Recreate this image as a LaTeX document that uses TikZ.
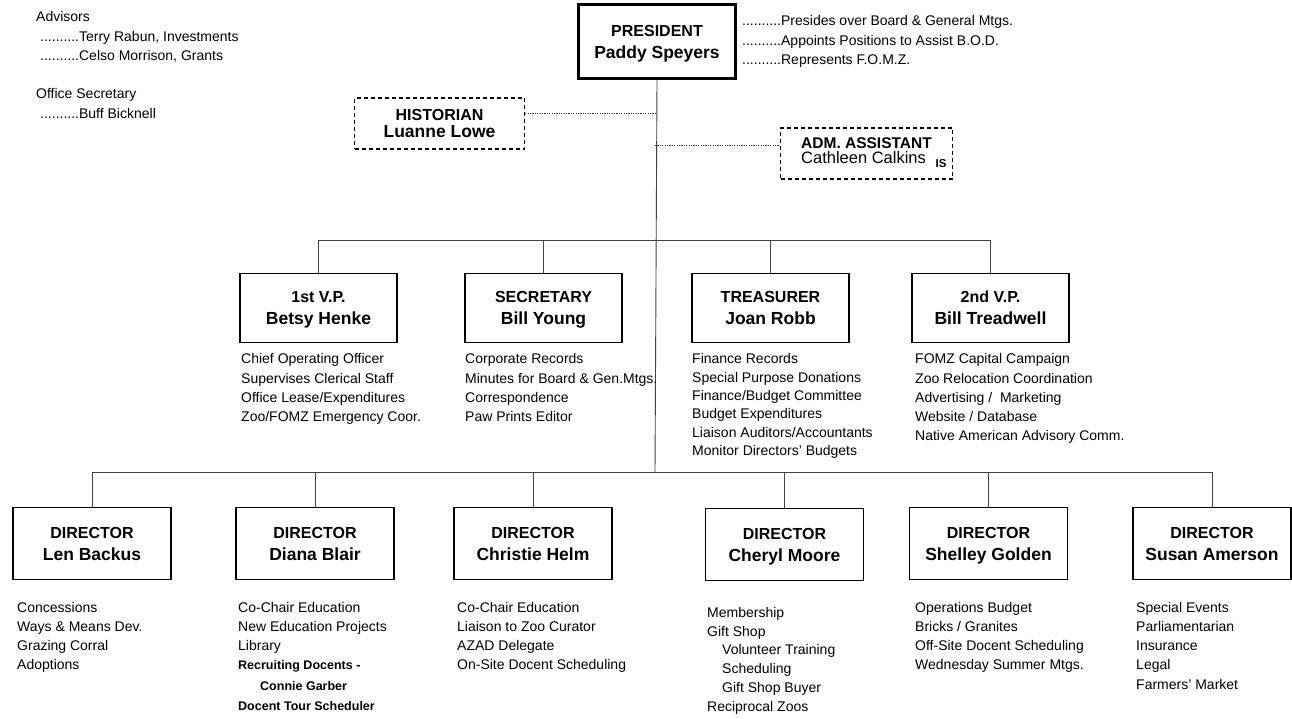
\documentclass[tikz,border=0pt]{standalone}
\usepackage{fontspec}
\setmainfont{Liberation Sans}
\newcommand\boxfont{\fontsize{16}{22}\selectfont\bfseries}
\newcommand\dutyfont{\fontsize{14}{19.2}\selectfont}
\newcommand\boldduty[1]{{\fontsize{12.5}{19}\selectfont\bfseries #1}}
\newcommand\officetext[2]{#1\\{\fontsize{17.5}{22}\selectfont\smash{#2}}}
\tikzset{
	office/.style={draw, line width=1.4pt, minimum width=157pt, minimum height=69pt, inner sep=0pt, align=center, font=\boxfont},
	diroffice/.style={office, minimum width=158pt, minimum height=72pt},
	presoffice/.style={office, line width=3pt, minimum width=157pt, minimum height=74pt},
	aideoffice/.style={office, dash pattern=on 4pt off 3pt, minimum width=170pt, minimum height=51pt},
	duties/.style={anchor=north west, align=left, inner sep=0pt, font=\dutyfont},
	link/.style={draw=black!75, line width=0.9pt},
	aidelink/.style={draw=black!80, line width=0.9pt, dash pattern=on 1.2pt off 1.2pt},
}

\begin{document}
\begin{tikzpicture}[x=1pt, y=-1pt]
			%%%%% START %%%%%
			\useasboundingbox (0, 0) rectangle (1292, 719);
			
			\node[duties] (advisors) at (36, 11.5) {Advisors\\\hspace*{4pt}..........Terry Rabun, Investments\\\hspace*{4pt}..........Celso Morrison, Grants};
			\node[duties] (officesec) at (36, 88.5) {Office Secretary\\\hspace*{4pt}..........Buff Bicknell};
			
			\node[presoffice] (pres) at (657, 41.5) {\officetext{PRESIDENT}{Paddy Speyers}};
			\node[duties] (presduty) at (742, 15.5) {..........Presides over Board \& General Mtgs.\\..........Appoints Positions to Assist B.O.D.\\..........Represents F.O.M.Z.};
			
			\node[aideoffice, font=\fontsize{16}{17}\selectfont\bfseries] (hist) at (439.5, 123.5) {HISTORIAN\\{\fontsize{17.5}{17}\selectfont Luanne Lowe}};
			\node[aideoffice, minimum width=172pt, align=left, font=\fontsize{15.5}{15}\selectfont] (adm) at (866.5, 153.5) {\textbf{ADM. ASSISTANT}\\{\fontsize{16.5}{15}\selectfont Cathleen Calkins\rule[-5pt]{0pt}{0pt}}};
			\node[inner sep=0pt, font=\fontsize{11.5}{11.5}\selectfont\bfseries] (admmark) at (941, 164) {IS};
			
			\coordinate (histtap) at (655, 113);
			\coordinate (admtap) at (655, 145);
			\coordinate (vpbus) at (655, 240);
			\coordinate (dirbus) at (655, 472);
			
			\draw[link] (pres.south) -- (dirbus);
			\draw[aidelink] (hist.east |- histtap) -- (histtap);
			\draw[aidelink] (admtap) -- (adm.west |- admtap);
			
			% officers
			\node[office] (vp1) at (318.5, 308) {\officetext{1st V.P.}{Betsy Henke}};
			\node[office] (sec) at (543.5, 308) {\officetext{SECRETARY}{Bill Young}};
			\node[office] (treas) at (770.5, 308) {\officetext{TREASURER}{Joan Robb}};
			\node[office] (vp2) at (990.5, 308) {\officetext{2nd V.P.}{Bill Treadwell}};
			
			\draw[link] (vp1.north |- vpbus) -- (vp2.north |- vpbus);
			\draw[link] (vp1.north) -- (vp1.north |- vpbus);
			\draw[link] (sec.north) -- (sec.north |- vpbus);
			\draw[link] (treas.north) -- (treas.north |- vpbus);
			\draw[link] (vp2.north) -- (vp2.north |- vpbus);
			
			\node[duties] (vp1duty) at (241, 353.5) {Chief Operating Officer\\Supervises Clerical Staff\\Office Lease/Expenditures\\Zoo/FOMZ Emergency Coor.};
			\node[duties] (secduty) at (465, 353.5) {Corporate Records\\Minutes for Board \& Gen.Mtgs.\\Correspondence\\Paw Prints Editor};
			\node[duties, font=\fontsize{14}{18.3}\selectfont] (treasduty) at (692, 353.5) {Finance Records\\Special Purpose Donations\\Finance/Budget Committee\\Budget Expenditures\\Liaison Auditors/Accountants\\Monitor Directors’ Budgets};
			\node[duties] (vp2duty) at (915, 353.5) {FOMZ Capital Campaign\\Zoo Relocation Coordination\\Advertising /\ \ Marketing\\Website / Database\\Native American Advisory Comm.};
			
			% directors
			\node[diroffice] (dirlen) at (92, 543.5) {\officetext{DIRECTOR}{Len Backus}};
			\node[diroffice] (dirdiana) at (315, 543.5) {\officetext{DIRECTOR}{Diana Blair}};
			\node[diroffice] (dirchristie) at (533, 543.5) {\officetext{DIRECTOR}{Christie Helm}};
			\node[diroffice] (dircheryl) at (784.5, 544.5) {\officetext{DIRECTOR}{Cheryl Moore}};
			\node[diroffice] (dirshelley) at (988.5, 543.5) {\officetext{DIRECTOR}{Shelley Golden}};
			\node[diroffice] (dirsusan) at (1212, 543.5) {\officetext{DIRECTOR}{Susan Amerson}};
			
			\draw[link] (dirlen.north |- dirbus) -- (dirsusan.north |- dirbus);
			\draw[link] (dirlen.north) -- (dirlen.north |- dirbus);
			\draw[link] (dirdiana.north) -- (dirdiana.north |- dirbus);
			\draw[link] (dirchristie.north) -- (dirchristie.north |- dirbus);
			\draw[link] (dircheryl.north) -- (dircheryl.north |- dirbus);
			\draw[link] (dirshelley.north) -- (dirshelley.north |- dirbus);
			\draw[link] (dirsusan.north) -- (dirsusan.north |- dirbus);
			
			\node[duties] (lenduty) at (17, 602) {Concessions\\Ways \& Means Dev.\\Grazing Corral\\Adoptions};
			\node[duties] (dianaduty) at (238, 602) {Co-Chair Education\\New Education Projects\\Library\\\boldduty{Recruiting Docents -}\\[1pt]\hspace*{22pt}\boldduty{Connie Garber}\\[1pt]\boldduty{Docent Tour Scheduler}};
			\node[duties] (christieduty) at (457, 602) {Co-Chair Education\\Liaison to Zoo Curator\\AZAD Delegate\\On-Site Docent Scheduling};
			\node[duties, font=\fontsize{14}{18.8}\selectfont] (cherylduty) at (707, 607) {Membership\\Gift Shop\\\hspace*{15pt}Volunteer Training\\\hspace*{15pt}Scheduling\\\hspace*{15pt}Gift Shop Buyer\\Reciprocal Zoos};
			\node[duties] (shelleyduty) at (915, 602) {Operations Budget\\Bricks / Granites\\Off-Site Docent Scheduling\\Wednesday Summer Mtgs.};
			\node[duties] (susanduty) at (1136, 602) {Special Events\\Parliamentarian\\Insurance\\Legal\\Farmers’ Market};
			
			%%%%% END %%%%%
\end{tikzpicture}
\end{document}
